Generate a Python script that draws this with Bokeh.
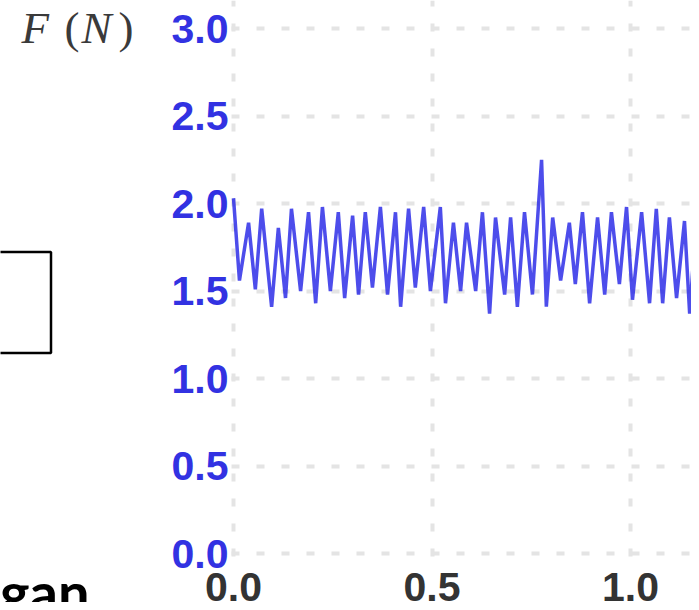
from bokeh.plotting import figure
from bokeh.models import Range1d, FixedTicker, NumeralTickFormatter, Grid
from bokeh.core.properties import value
from bokeh.embed import file_html
from bokeh.resources import INLINE

# ---- data ----
time_s = [0.000, 0.015, 0.038, 0.055, 0.071, 0.096, 0.113, 0.131, 0.146, 0.169,
          0.189, 0.207, 0.224, 0.244, 0.264, 0.280, 0.300, 0.315, 0.332, 0.350,
          0.370, 0.388, 0.408, 0.421, 0.441, 0.458, 0.479, 0.496, 0.521, 0.534,
          0.554, 0.572, 0.587, 0.610, 0.627, 0.645, 0.660, 0.683, 0.698, 0.715,
          0.733, 0.753, 0.776, 0.788, 0.804, 0.824, 0.846, 0.861, 0.879, 0.897,
          0.917, 0.935, 0.952, 0.972, 0.990, 1.005, 1.028, 1.048, 1.065, 1.081,
          1.098, 1.116, 1.136, 1.149, 1.169, 1.186]
force_n = [2.03, 1.56, 1.89, 1.51, 1.97, 1.41, 1.86, 1.46, 1.97, 1.50,
           1.95, 1.43, 1.98, 1.50, 1.95, 1.46, 1.93, 1.48, 1.95, 1.52,
           1.98, 1.48, 1.95, 1.41, 1.97, 1.52, 1.98, 1.50, 1.98, 1.43,
           1.89, 1.50, 1.89, 1.50, 1.95, 1.37, 1.92, 1.48, 1.92, 1.41,
           1.95, 1.48, 2.25, 1.41, 1.92, 1.56, 1.89, 1.54, 1.95, 1.43,
           1.92, 1.48, 1.95, 1.54, 1.98, 1.45, 1.95, 1.43, 1.97, 1.43,
           1.92, 1.46, 1.90, 1.37, 2.01, 1.50]
x_ticks = [0.0, 0.5, 1.0]
y_ticks = [0.0, 0.5, 1.0, 1.5, 2.0, 2.5, 3.0]
y_label_parts = ["F", "(", "N", ")"]
side_word = "gan"

# ---- geometry (picture pixels -> data) ----
W, H = 691, 602
PX_X = 397.0      # pixels per second
PX_Y = 175.0      # pixels per newton
X0_PX = 233.0     # pixel x of t = 0
Y0_PX = 553.0     # pixel y of F = 0


def dx(px):
    return (px - X0_PX) / PX_X


def dy(py):
    return (Y0_PX - py) / PX_Y


p = figure(width=W, height=H, output_backend="svg", toolbar_location=None,
           x_range=Range1d(dx(0), dx(W)), y_range=Range1d(dy(H), dy(0)),
           min_border=0, outline_line_color=None,
           background_fill_color="white", border_fill_color="white")

# axes drawn inside the canvas at fixed positions
p.xaxis.ticker = FixedTicker(ticks=x_ticks)
p.yaxis.ticker = FixedTicker(ticks=y_ticks)
p.xaxis.fixed_location = dy(564)
p.yaxis.fixed_location = dx(236)
for ax in (p.xaxis, p.yaxis):
    ax.formatter = NumeralTickFormatter(format="0.0")
    ax.axis_line_color = None
    ax.major_tick_line_color = None
    ax.minor_tick_line_color = None
    ax.major_label_text_font = "Liberation Sans"
    ax.major_label_text_font_style = "bold"
    ax.major_label_text_font_size = "41px"
p.yaxis.major_label_standoff = 2
p.xaxis.major_label_standoff = 2
p.yaxis.major_label_text_color = "#3232e2"
p.xaxis.major_label_text_color = "#333333"

# dotted grid
p.xgrid.ticker = FixedTicker(ticks=x_ticks)
p.ygrid.ticker = FixedTicker(ticks=y_ticks)
for g in (p.xgrid, p.ygrid):
    g.grid_line_color = "#e4e4e4"
    g.grid_line_width = 4
    g.grid_line_dash = "8 17"
if "cross_bounds" in Grid.properties():
    p.xgrid.cross_bounds = (dy(556), dy(0))
    p.ygrid.cross_bounds = (dx(231), dx(W))
else:
    p.xgrid.visible = False
    p.ygrid.visible = False
    p.segment(x0=x_ticks, x1=x_ticks, y0=[dy(556)] * len(x_ticks),
              y1=[dy(0)] * len(x_ticks), line_color="#e4e4e4", line_width=4,
              line_dash="8 17")
    p.segment(x0=[dx(231)] * len(y_ticks), x1=[dx(W)] * len(y_ticks),
              y0=y_ticks, y1=y_ticks, line_color="#e4e4e4", line_width=4,
              line_dash="8 17")

# force signal
p.line(time_s, force_n, line_color="#2020e6", line_width=3.5, line_alpha=0.8)

# ---- side content of the original slide ----
fx = [21, 64, 81, 118]
styles = ["italic", "normal", "italic", "normal"]
for t, xx, st in zip(y_label_parts, fx, styles):
    p.text(x=[dx(xx)], y=[dy(27)], text=[t], text_font=value("Liberation Serif"),
           text_font_style=st, text_font_size="45px", text_color="#3a3a3a",
           text_align="left", text_baseline="middle")

p.quad(left=[dx(-10)], right=[dx(50.5)], top=[dy(251.5)], bottom=[dy(352.5)],
       fill_color=None, line_color="black", line_width=2.5)

p.text(x=[dx(89)], y=[dy(591)], text=[side_word], text_font=value("Lato"),
       text_font_style="bold", text_font_size="56px", text_color="black",
       text_align="right", text_baseline="middle")

open("out.html", "w").write(file_html(p, INLINE))
